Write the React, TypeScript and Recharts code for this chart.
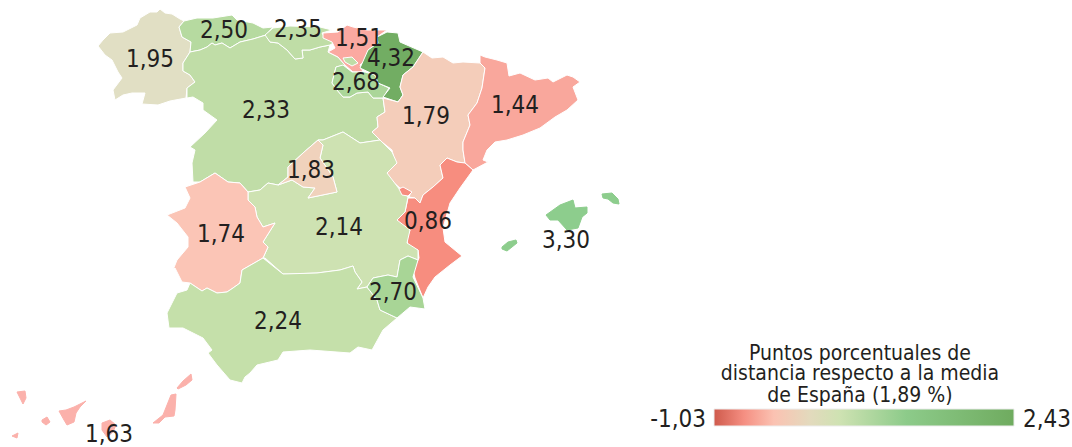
import React from 'react';
import { ScatterChart, Scatter, XAxis, YAxis, ReferenceArea } from 'recharts';

type Pt = [number, number];

// map outlines, traced in map units (1 unit = 1px of the 1072x447 frame)
const galicia: Pt[] = [[98,46],[103,40],[110,33],[123,32],[137,25],[140,18],[150,12],[157,12],[160,9],[165,13],[172,14],[180,19],[184,21],[179,27],[182,37],[191,42],[190,52],[183,63],[183,71],[190,75],[195,82],[187,88],[186,98],[170,101],[158,105],[142,104],[145,93],[132,93],[123,95],[115,100],[113,90],[122,78],[118,72],[112,60],[105,55]];
const asturias: Pt[] = [[184,21],[197,18],[213,18],[232,15],[237,20],[253,23],[263,28],[273,27],[266,35],[253,39],[240,42],[230,48],[222,43],[215,45],[212,43],[207,47],[200,50],[190,52],[191,42],[182,37],[179,27]];
const cantabria: Pt[] = [[265,35],[273,28],[290,26],[320,27],[332,30],[322,33],[325,38],[335,42],[330,45],[320,47],[310,50],[302,50],[303,58],[295,59],[287,50],[278,43],[270,42]];
const paisVasco: Pt[] = [[323,33],[338,32],[347,25],[353,27],[367,30],[387,30],[377,37],[378,43],[368,50],[365,60],[360,65],[363,72],[353,72],[345,65],[338,57],[328,52],[335,48],[332,42],[323,38]];
const trevino: Pt[] = [[343,58],[352,57],[358,63],[352,66],[345,62]];
const navarra: Pt[] = [[387,32],[398,33],[400,42],[423,52],[413,67],[403,75],[400,87],[403,95],[398,102],[383,97],[390,88],[378,83],[375,75],[360,68],[368,50],[378,43],[377,37]];
const rioja: Pt[] = [[336,67],[343,65],[352,72],[365,72],[375,75],[378,83],[389,88],[383,98],[373,98],[368,92],[357,93],[350,97],[343,97],[337,90],[332,83]];
const aragon: Pt[] = [[423,52],[432,58],[443,57],[453,63],[463,62],[480,63],[485,68],[482,88],[477,103],[468,115],[470,125],[463,142],[463,150],[465,163],[457,162],[447,158],[440,165],[443,178],[433,187],[423,195],[420,203],[415,198],[409,197],[411,192],[400,188],[385,175],[395,163],[392,150],[382,142],[372,132],[378,127],[377,117],[385,112],[383,98],[398,102],[403,95],[400,87],[403,75],[413,67]];
const cataluna: Pt[] = [[480,55],[485,57],[497,60],[507,63],[509,76],[520,73],[535,80],[548,78],[553,82],[567,75],[573,77],[580,82],[573,87],[578,100],[567,110],[555,117],[540,128],[523,135],[507,140],[495,142],[487,150],[483,160],[488,162],[473,170],[465,163],[463,150],[463,142],[470,125],[468,115],[477,103],[482,88],[485,68],[480,63]];
const valencia: Pt[] = [[447,158],[457,162],[465,163],[473,170],[460,188],[450,203],[443,228],[445,242],[462,256],[450,265],[435,277],[428,287],[423,298],[415,278],[413,270],[419,258],[418,250],[408,247],[407,238],[410,230],[398,223],[397,218],[405,212],[408,198],[415,198],[420,203],[423,195],[433,187],[443,178],[440,165]];
const ademuz: Pt[] = [[399,189],[403,187],[412,192],[408,196],[402,195]];
const castillaMancha: Pt[] = [[248,192],[260,190],[268,183],[278,185],[292,180],[303,187],[315,188],[308,198],[337,192],[333,177],[320,158],[323,145],[318,140],[323,140],[343,132],[360,143],[380,140],[392,152],[397,163],[387,173],[400,190],[408,197],[405,212],[397,220],[410,230],[407,243],[418,250],[418,260],[408,256],[400,260],[397,277],[388,275],[373,278],[367,287],[357,289],[362,282],[355,272],[353,266],[340,270],[317,273],[290,274],[283,274],[265,258],[263,258],[268,247],[263,242],[275,223],[263,227],[257,217],[255,207],[248,200]];
const madrid: Pt[] = [[318,140],[323,145],[320,158],[333,177],[337,192],[308,198],[315,188],[303,187],[292,180],[278,185],[288,177],[288,167],[303,153]];
const castillaLeon: Pt[] = [[190,52],[200,50],[207,47],[212,43],[215,45],[222,43],[230,48],[240,42],[253,39],[266,35],[270,42],[278,43],[287,50],[295,59],[303,58],[302,50],[310,50],[320,47],[330,45],[328,52],[338,57],[345,65],[336,67],[332,83],[337,90],[343,97],[350,97],[357,93],[368,92],[373,98],[383,98],[385,112],[377,117],[378,127],[372,132],[382,142],[380,140],[360,143],[343,132],[323,140],[318,140],[303,153],[288,167],[288,177],[278,185],[268,183],[260,190],[248,192],[240,183],[228,182],[215,173],[200,182],[193,182],[192,163],[195,150],[190,147],[205,133],[217,120],[203,110],[203,103],[193,97],[187,98],[187,88],[195,82],[190,75],[183,71],[183,63]];
const extremadura: Pt[] = [[215,173],[228,182],[240,183],[248,192],[248,200],[255,207],[257,217],[263,227],[275,223],[263,242],[268,247],[263,258],[242,270],[240,283],[233,288],[227,292],[217,293],[207,288],[202,291],[190,283],[182,282],[175,268],[173,270],[177,260],[188,247],[188,237],[177,223],[167,215],[185,208],[190,198],[185,187],[200,182]];
const andalucia: Pt[] = [[263,258],[242,270],[240,283],[233,288],[227,292],[217,293],[207,288],[202,291],[190,283],[187,290],[177,293],[167,313],[169,328],[183,328],[203,338],[212,350],[208,353],[217,365],[230,380],[242,383],[245,377],[250,373],[257,365],[278,360],[283,352],[310,350],[350,353],[358,347],[372,350],[383,330],[397,318],[380,310],[377,300],[367,287],[357,289],[362,282],[355,272],[353,266],[340,270],[317,273],[283,274]];
const murcia: Pt[] = [[367,287],[373,278],[388,275],[397,277],[400,260],[408,256],[418,260],[413,277],[423,298],[425,309],[410,307],[397,318],[380,310],[377,300]];
const mallorca: Pt[] = [[546,215],[560,205],[573,200],[575,208],[587,207],[587,213],[582,217],[578,228],[567,230],[558,220],[550,220]];
const menorca: Pt[] = [[602,194],[612,193],[618,199],[619,204],[613,203],[608,199],[603,198]];
const ibiza: Pt[] = [[502,247],[508,242],[516,240],[517,243],[512,247],[507,251],[502,249]];
const laPalma: Pt[] = [[17,392],[25,391],[26,398],[23,404],[20,398]];
const tenerife: Pt[] = [[59,411],[66,410],[74,407],[86,401],[80,407],[76,413],[74,422],[67,425],[64,420]];
const gomera: Pt[] = [[42,420],[47,417],[50,422],[46,425],[42,422]];
const hierro: Pt[] = [[12,436],[18,433],[17,438]];
const granCanaria: Pt[] = [[102,423],[110,420],[116,425],[113,432],[107,437],[102,430]];
const fuerteventura: Pt[] = [[171,395],[176,394],[175,410],[174,416],[165,417],[159,423],[153,423],[163,415],[167,405]];
const lanzarote: Pt[] = [[177,388],[183,381],[191,374],[192,380],[186,385],[178,389]];

const regionShapes: [Pt[], string][] = [
  [galicia, '#E1DFC4'], [asturias, '#B6DAA0'], [castillaLeon, '#C0DDA7'], [cantabria, '#BFDDA6'],
  [paisVasco, '#FBA9A1'], [rioja, '#ABD699'], [trevino, '#C0DDA7'], [navarra, '#72AD63'],
  [aragon, '#F4CDBA'], [cataluna, '#F9A79C'], [valencia, '#F78D7F'], [castillaMancha, '#CEE2B2'],
  [ademuz, '#F78D7F'], [madrid, '#F0D2BC'], [extremadura, '#FBC5B6'], [andalucia, '#C5E0AA'],
  [murcia, '#A8D596'],
];

const islandShapes: [Pt[], string][] = [
  [mallorca, '#8DCD8D'], [menorca, '#8DCD8D'], [ibiza, '#8DCD8D'],
  [laPalma, '#FBB1AB'], [tenerife, '#FBB1AB'], [gomera, '#FBB1AB'], [hierro, '#FBB1AB'],
  [granCanaria, '#FBB1AB'], [fuerteventura, '#FBB1AB'], [lanzarote, '#FBB1AB'],
];

const regionLabels: { x: number; y: number; label: string }[] = [
  { x: 150, y: 59, label: '1,95' }, { x: 224, y: 30, label: '2,50' }, { x: 298, y: 29, label: '2,35' },
  { x: 359, y: 38, label: '1,51' }, { x: 391, y: 58, label: '4,32' }, { x: 356, y: 82, label: '2,68' },
  { x: 266, y: 110, label: '2,33' }, { x: 426, y: 116, label: '1,79' }, { x: 515, y: 105, label: '1,44' },
  { x: 311, y: 170, label: '1,83' }, { x: 339, y: 227, label: '2,14' }, { x: 221, y: 234, label: '1,74' },
  { x: 428, y: 221, label: '0,86' }, { x: 566, y: 240, label: '3,30' }, { x: 393, y: 292, label: '2,70' },
  { x: 278, y: 321, label: '2,24' }, { x: 109, y: 434, label: '1,63' },
];

const legendTitle = ['Puntos porcentuales de', 'distancia respecto a la media', 'de España (1,89 %)'];
const legendMin = '-1,03';
const legendMax = '2,43';
const legendStops: [string, string][] = [
  ['0%', '#CF5A4C'], ['10%', '#F58F82'], ['20%', '#FBC2B2'], ['32%', '#E3DABD'],
  ['42%', '#CEE2B2'], ['64%', '#8DCB8A'], ['100%', '#6FAB5F'],
];

const FONT = '"DejaVu Sans Condensed", "DejaVu Sans", sans-serif';
const INK = '#231F20';

const filledOutline = (fill: string, stroke: string) => (props: any) => {
  const d = props.points.map((p: any, i: number) => `${i ? 'L' : 'M'}${p.cx ?? p.x},${p.cy ?? p.y}`).join(' ') + ' Z';
  return <path d={d} fill={fill} stroke={stroke} strokeWidth={1} strokeLinejoin="round" />;
};

const LabelMark = (props: any) => (
  <text x={props.cx} y={props.cy} textAnchor="middle" dominantBaseline="central" fontFamily={FONT} fontSize={24} fill={INK}>
    {props.payload.label}
  </text>
);

const App: React.FC = () => {
  return (
    <div style={{ position: 'absolute', left: 0, top: 0 }}>
      <ScatterChart width={1072} height={447} margin={{ top: 0, right: 0, bottom: 0, left: 0 }}>
        <defs>
          <linearGradient id="legendGradient" x1="0" y1="0" x2="1" y2="0">
            {legendStops.map(([offset, color]) => <stop key={offset} offset={offset} stopColor={color} />)}
          </linearGradient>
        </defs>
        <XAxis type="number" dataKey="x" domain={[0, 1072]} hide />
        <YAxis type="number" dataKey="y" domain={[0, 447]} reversed hide />
        {regionShapes.map(([outline, fill], i) => (
          <Scatter
            key={i}
            data={outline.map(([x, y]) => ({ x, y }))}
            line={filledOutline(fill, '#fff')}
            shape={() => <g />}
            isAnimationActive={false}
          />
        ))}
        {islandShapes.map(([outline, fill], i) => (
          <Scatter
            key={`island-${i}`}
            data={outline.map(([x, y]) => ({ x, y }))}
            line={filledOutline(fill, fill)}
            shape={() => <g />}
            isAnimationActive={false}
          />
        ))}
        <Scatter data={regionLabels} shape={LabelMark} isAnimationActive={false} />
        <ReferenceArea x1={714} x2={1014} y1={409} y2={426} fill="url(#legendGradient)" fillOpacity={1} stroke="#EDEDED" />
        <text x={860} y={360} textAnchor="middle" fontFamily={FONT} fontSize={21} fill={INK}>{legendTitle[0]}</text>
        <text x={860} y={380} textAnchor="middle" fontFamily={FONT} fontSize={21} fill={INK}>{legendTitle[1]}</text>
        <text x={860} y={402} textAnchor="middle" fontFamily={FONT} fontSize={21} fill={INK}>{legendTitle[2]}</text>
        <text x={706} y={427} textAnchor="end" fontFamily={FONT} fontSize={24} fill={INK}>{legendMin}</text>
        <text x={1023} y={427} fontFamily={FONT} fontSize={24} fill={INK}>{legendMax}</text>
      </ScatterChart>
    </div>
  );
};

export default App;
